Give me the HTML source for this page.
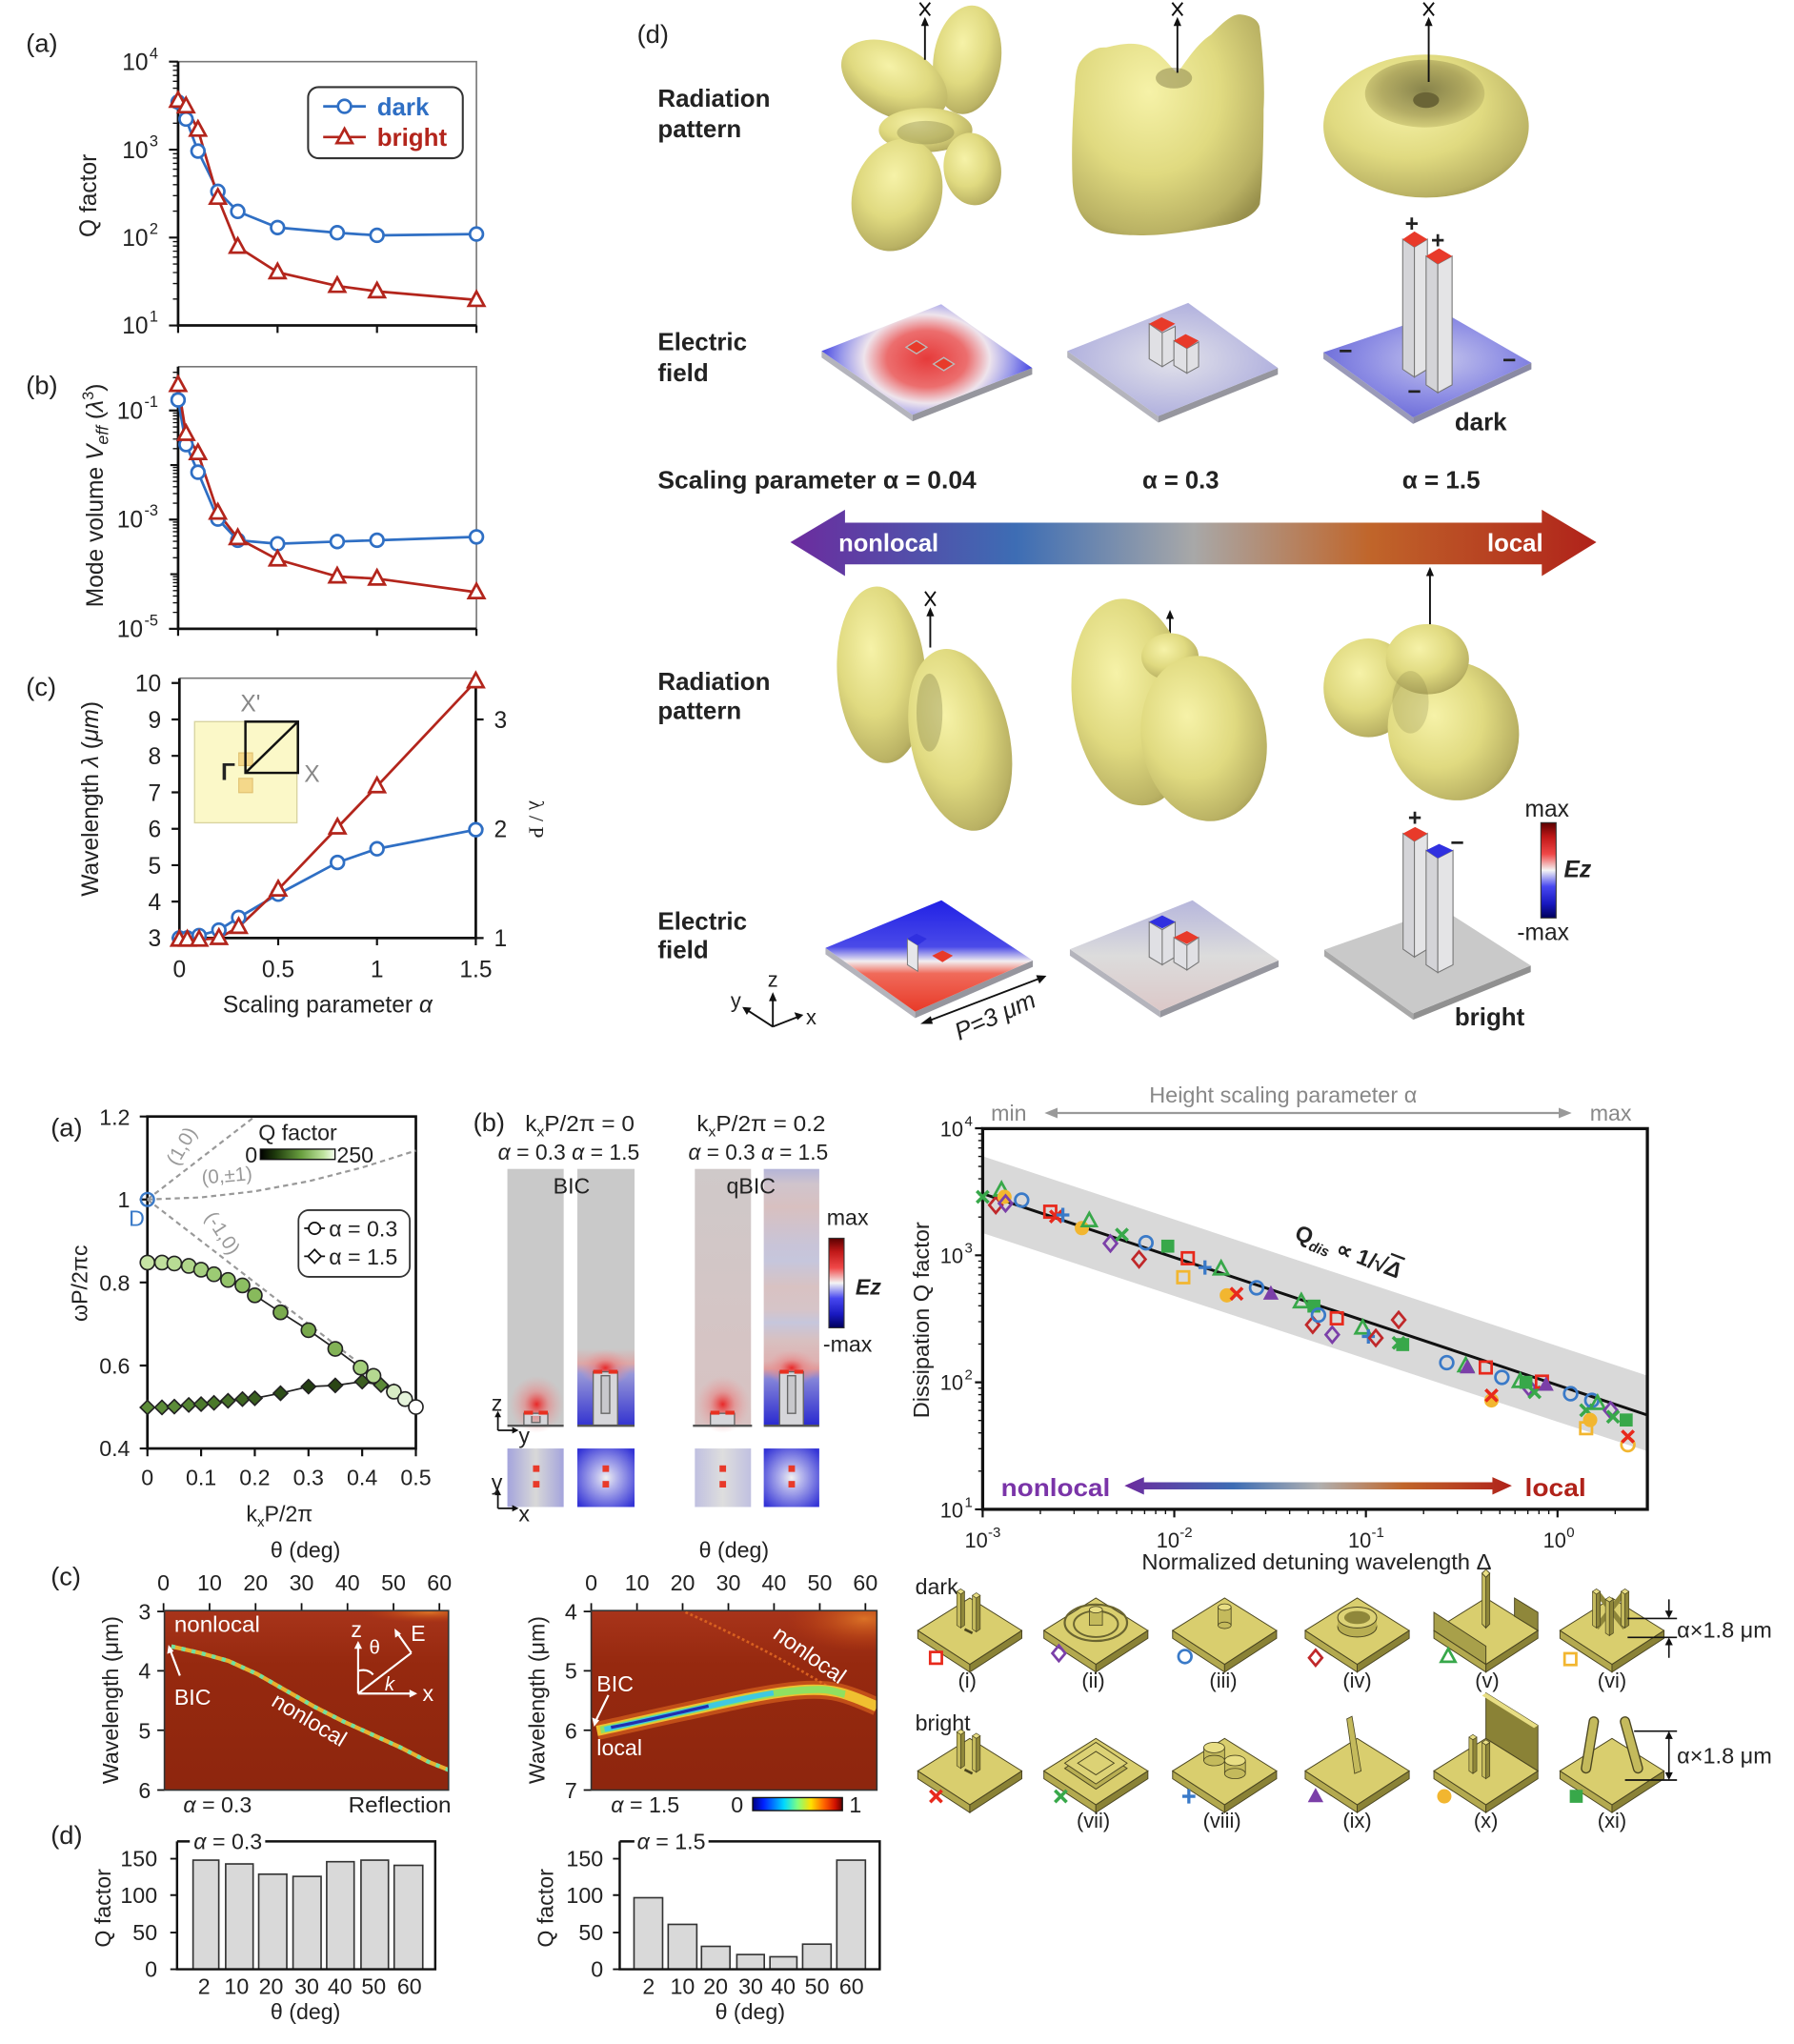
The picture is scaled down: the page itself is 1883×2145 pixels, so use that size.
<!DOCTYPE html>
<html><head><meta charset="utf-8">
<style>
html,body{margin:0;padding:0;background:#fff;}
svg{display:block;}
text{font-family:"Liberation Sans",Arial,sans-serif;fill:#222;}
</style></head><body>
<svg xmlns="http://www.w3.org/2000/svg" xmlns:xlink="http://www.w3.org/1999/xlink" width="1883" height="2145" viewBox="0 0 1380 1572" preserveAspectRatio="none">
<defs>
<radialGradient id="yb" cx="0.4" cy="0.35" r="0.75"><stop offset="0" stop-color="#f6f2a8"/><stop offset="0.5" stop-color="#e0da80"/><stop offset="0.85" stop-color="#bab264"/><stop offset="1" stop-color="#98904c"/></radialGradient>
<radialGradient id="ybd" cx="0.5" cy="0.45" r="0.6"><stop offset="0" stop-color="#6e6a38"/><stop offset="0.6" stop-color="#a49c56"/><stop offset="1" stop-color="#d8d27c"/></radialGradient>
<linearGradient id="arr" gradientUnits="userSpaceOnUse" x1="608" y1="0" x2="1228" y2="0"><stop offset="0" stop-color="#6c2b9e"/><stop offset="0.28" stop-color="#3d6db4"/><stop offset="0.5" stop-color="#a8a8a8"/><stop offset="0.72" stop-color="#c0652a"/><stop offset="1" stop-color="#b0221a"/></linearGradient>
<linearGradient id="arr2" gradientUnits="userSpaceOnUse" x1="865" y1="0" x2="1163" y2="0"><stop offset="0" stop-color="#6c2b9e"/><stop offset="0.28" stop-color="#3d6db4"/><stop offset="0.5" stop-color="#b0b0b0"/><stop offset="0.72" stop-color="#c0652a"/><stop offset="1" stop-color="#b0221a"/></linearGradient>
<radialGradient id="pl1" gradientUnits="userSpaceOnUse" cx="0" cy="0" r="1" gradientTransform="translate(713,276) scale(88,62)"><stop offset="0" stop-color="#e63a3a"/><stop offset="0.35" stop-color="#ec6e6e"/><stop offset="0.55" stop-color="#eee4ec"/><stop offset="0.75" stop-color="#9898ea"/><stop offset="1" stop-color="#2424e0"/></radialGradient>
<radialGradient id="pl2" cx="0.5" cy="0.5" r="0.6"><stop offset="0" stop-color="#e2e2ea"/><stop offset="1" stop-color="#a8a8dc"/></radialGradient>
<radialGradient id="pl3" cx="0.55" cy="0.45" r="0.6"><stop offset="0" stop-color="#c4c4ec"/><stop offset="0.6" stop-color="#8c8ce4"/><stop offset="1" stop-color="#6a6ad8"/></radialGradient>
<linearGradient id="pl4" gradientUnits="userSpaceOnUse" x1="0" y1="692" x2="0" y2="778"><stop offset="0" stop-color="#2020e6"/><stop offset="0.42" stop-color="#4a4ae8"/><stop offset="0.55" stop-color="#f2eef0"/><stop offset="0.66" stop-color="#f06a5a"/><stop offset="1" stop-color="#e83a28"/></linearGradient>
<linearGradient id="pl5" gradientUnits="userSpaceOnUse" x1="0" y1="692" x2="0" y2="778"><stop offset="0" stop-color="#b6b6dc"/><stop offset="0.5" stop-color="#dcdcdc"/><stop offset="1" stop-color="#dcc8c8"/></linearGradient>
<linearGradient id="ez" x1="0" y1="0" x2="0" y2="1"><stop offset="0" stop-color="#5a0000"/><stop offset="0.15" stop-color="#c01818"/><stop offset="0.33" stop-color="#f04848"/><stop offset="0.5" stop-color="#f4f4f4"/><stop offset="0.67" stop-color="#4848f0"/><stop offset="0.85" stop-color="#1818c0"/><stop offset="1" stop-color="#00005a"/></linearGradient>
<linearGradient id="qg" x1="0" y1="0" x2="1" y2="0"><stop offset="0" stop-color="#000"/><stop offset="0.2" stop-color="#1e3a0c"/><stop offset="0.55" stop-color="#6aa040"/><stop offset="0.85" stop-color="#c0e4a0"/><stop offset="1" stop-color="#f6fff0"/></linearGradient>
<linearGradient id="jet" x1="0" y1="0" x2="1" y2="0"><stop offset="0" stop-color="#00007f"/><stop offset="0.12" stop-color="#0020ff"/><stop offset="0.35" stop-color="#00d8ff"/><stop offset="0.5" stop-color="#80ff80"/><stop offset="0.65" stop-color="#ffe000"/><stop offset="0.8" stop-color="#ff6000"/><stop offset="0.92" stop-color="#d01000"/><stop offset="1" stop-color="#600000"/></linearGradient>
<radialGradient id="glow" cx="0.5" cy="0.5" r="0.5"><stop offset="0" stop-color="#e82828" stop-opacity="1"/><stop offset="0.45" stop-color="#e88080" stop-opacity="0.6"/><stop offset="1" stop-color="#e8a0a0" stop-opacity="0"/></radialGradient>
<linearGradient id="c2" x1="0" y1="0" x2="0" y2="1"><stop offset="0" stop-color="#c9c9c9"/><stop offset="0.7" stop-color="#c9c9c9"/><stop offset="0.76" stop-color="#dca8a8"/><stop offset="0.8" stop-color="#9898d8"/><stop offset="1" stop-color="#3434d0"/></linearGradient>
<linearGradient id="c3" x1="0" y1="0" x2="0" y2="1"><stop offset="0" stop-color="#cfc9c9"/><stop offset="1" stop-color="#d8c2c2"/></linearGradient>
<linearGradient id="c4" x1="0" y1="0" x2="0" y2="1"><stop offset="0" stop-color="#b4b4d8"/><stop offset="0.06" stop-color="#d0c4cc"/><stop offset="0.15" stop-color="#d8c0c0"/><stop offset="0.3" stop-color="#c8c4d8"/><stop offset="0.36" stop-color="#c6c6dc"/><stop offset="0.46" stop-color="#d8c2c2"/><stop offset="0.55" stop-color="#d6c4c8"/><stop offset="0.6" stop-color="#c6c6dc"/><stop offset="0.67" stop-color="#d8c0c0"/><stop offset="0.75" stop-color="#deb2b2"/><stop offset="0.78" stop-color="#e09a9a"/><stop offset="0.82" stop-color="#8484d8"/><stop offset="1" stop-color="#2a2ad0"/></linearGradient>
<linearGradient id="s1" x1="0" y1="0" x2="1" y2="0"><stop offset="0" stop-color="#a4a4dc"/><stop offset="0.5" stop-color="#d8d8d8"/><stop offset="1" stop-color="#a4a4dc"/></linearGradient>
<linearGradient id="s3" x1="0" y1="0" x2="1" y2="0"><stop offset="0" stop-color="#c0c0e0"/><stop offset="0.5" stop-color="#dedede"/><stop offset="1" stop-color="#c0c0e0"/></linearGradient>
<radialGradient id="s2" cx="0.5" cy="0.5" r="0.65"><stop offset="0" stop-color="#f0f0f0"/><stop offset="0.3" stop-color="#b4b4ec"/><stop offset="1" stop-color="#3434d6"/></radialGradient>
<linearGradient id="hm1" x1="0" y1="0" x2="0" y2="1"><stop offset="0" stop-color="#a8341a"/><stop offset="0.3" stop-color="#96290f"/><stop offset="1" stop-color="#8e260e"/></linearGradient>
<radialGradient id="hot" cx="0.5" cy="0.5" r="0.5"><stop offset="0" stop-color="#e07828" stop-opacity="0.9"/><stop offset="1" stop-color="#c04010" stop-opacity="0"/></radialGradient>
<clipPath id="clipL"><rect x="126.5" y="1238.7" width="218.5" height="138"/></clipPath>
<clipPath id="clipR"><rect x="454.8" y="1238.7" width="219.7" height="138"/></clipPath>

<g id="mc"><circle r="5" fill="none" stroke="currentColor" stroke-width="2"/></g>
<g id="ms"><rect x="-4.5" y="-4.5" width="9" height="9" fill="none" stroke="currentColor" stroke-width="2"/></g>
<g id="md"><path d="M0,-6 L5,0 L0,6 L-5,0Z" fill="none" stroke="currentColor" stroke-width="2"/></g>
<g id="mt"><path d="M0,-6 L5.5,4 L-5.5,4Z" fill="none" stroke="currentColor" stroke-width="2"/></g>
<g id="mx"><path d="M-4.5,-4.5 L4.5,4.5 M4.5,-4.5 L-4.5,4.5" stroke="currentColor" stroke-width="2.6" fill="none"/></g>
<g id="mp"><path d="M-5,0 H5 M0,-5.5 V5.5" stroke="currentColor" stroke-width="2.4" fill="none"/></g>
<g id="mtf"><path d="M0,-6.5 L6,4.5 L-6,4.5Z" fill="currentColor"/></g>
<g id="mcf"><circle r="5.5" fill="currentColor"/></g>
<g id="msf"><rect x="-5" y="-5" width="10" height="10" fill="currentColor"/></g>

<g id="base"><path d="M-40,0 L0,26 L0,32 L-40,6Z" fill="#b3a94f" stroke="#4a4520" stroke-width=".7"/><path d="M0,26 L40,0 L40,6 L0,32Z" fill="#8a8236" stroke="#4a4520" stroke-width=".7"/><path d="M-40,0 L0,-25 L40,0 L0,26Z" fill="#d9ce6e" stroke="#4a4520" stroke-width=".7"/></g>
<g id="pil"><path d="M-3,-28 L0,-26 L0,0 L-3,-2Z" fill="#c4ba5c" stroke="#4a4520" stroke-width=".5"/><path d="M0,-26 L3,-28 L3,-2 L0,0Z" fill="#8f873a" stroke="#4a4520" stroke-width=".5"/><path d="M-3,-28 L0,-30 L3,-28 L0,-26Z" fill="#e8de84" stroke="#4a4520" stroke-width=".5"/></g>
</defs>

<rect x="0" y="0" width="1380" height="1572" fill="#fff"/>

<!-- ===================== TOP LEFT (a) ===================== -->
<text x="20" y="40" font-size="20">(a)</text>
<path d="M137,47.4 H366.5 V250.3" stroke="#777" stroke-width="1.2" fill="none"/>
<path d="M137,47.4 V250.3 H366.5" stroke="#111" stroke-width="2" fill="none"/>
<path d="M130,250.3H137M130,182.7H137M130,115.1H137M130,47.4H137" stroke="#111" stroke-width="1.6"/>
<path d="M133,229.95H137M133,218.05H137M133,209.6H137M133,203.05H137M133,197.7H137M133,193.2H137M133,189.25H137M133,185.8H137M133,162.35H137M133,150.45H137M133,142H137M133,135.45H137M133,130.1H137M133,125.6H137M133,121.65H137M133,118.2H137M133,94.75H137M133,82.85H137M133,74.4H137M133,67.85H137M133,62.5H137M133,58H137M133,54.05H137M133,50.6H137" stroke="#111" stroke-width="1"/>
<path d="M137,250.3V256M213.5,250.3V256M290,250.3V256M366.5,250.3V256" stroke="#111" stroke-width="1.6"/>
<g font-size="18" text-anchor="end"><text x="114" y="54">10</text><text x="114" y="121.5">10</text><text x="114" y="189">10</text><text x="114" y="256.5">10</text></g>
<g font-size="12"><text x="115" y="45">4</text><text x="115" y="112.5">3</text><text x="115" y="180">2</text><text x="115" y="247.5">1</text></g>
<text transform="translate(74,150.5) rotate(-90)" font-size="18" text-anchor="middle">Q factor</text>
<polyline points="137,78.5 143.1,91.6 152.3,116.2 167.6,147.2 182.9,162.6 213.5,175 259.4,179 290,181 366.5,180" fill="none" stroke="#2f6fc4" stroke-width="2"/>
<polyline points="137,77.5 143.1,81.8 152.3,99.8 167.6,152.1 182.9,189.8 213.5,209.4 259.4,219.9 290,224.1 366.5,230.7" fill="none" stroke="#b3251c" stroke-width="2"/>
<g fill="#fff" stroke="#2f6fc4" stroke-width="2"><circle cx="137" cy="78.5" r="5"/><circle cx="143.1" cy="91.6" r="5"/><circle cx="152.3" cy="116.2" r="5"/><circle cx="167.6" cy="147.2" r="5"/><circle cx="182.9" cy="162.6" r="5"/><circle cx="213.5" cy="175" r="5"/><circle cx="259.4" cy="179" r="5"/><circle cx="290" cy="181" r="5"/><circle cx="366.5" cy="180" r="5"/></g>
<g fill="#fff" stroke="#b3251c" stroke-width="2"><path d="M137,71l6,11h-12z"/><path d="M143.1,75.3l6,11h-12z"/><path d="M152.3,93.3l6,11h-12z"/><path d="M167.6,145.6l6,11h-12z"/><path d="M182.9,183.3l6,11h-12z"/><path d="M213.5,202.9l6,11h-12z"/><path d="M259.4,213.4l6,11h-12z"/><path d="M290,217.6l6,11h-12z"/><path d="M366.5,224.2l6,11h-12z"/></g>
<rect x="237" y="67" width="119" height="54.7" rx="8" fill="#fff" stroke="#333" stroke-width="1.5"/>
<line x1="248.6" y1="81.8" x2="281.4" y2="81.8" stroke="#2f6fc4" stroke-width="2"/><circle cx="265" cy="81.8" r="5" fill="#fff" stroke="#2f6fc4" stroke-width="2"/>
<line x1="248.6" y1="105.4" x2="281.4" y2="105.4" stroke="#b3251c" stroke-width="2"/><path d="M265,99l6,11h-12z" fill="#fff" stroke="#b3251c" stroke-width="2"/>
<text x="290" y="88.5" font-size="19" font-weight="bold" style="fill:#2f6fc4">dark</text>
<text x="290" y="112" font-size="19" font-weight="bold" style="fill:#b3251c">bright</text>

<!-- (b) -->
<text x="20" y="303" font-size="20">(b)</text>
<path d="M137,282 H366.5 V483.6" stroke="#777" stroke-width="1.2" fill="none"/>
<path d="M137,282 V483.6 H366.5" stroke="#111" stroke-width="2" fill="none"/>
<path d="M130,483.6H137M131,441.6H137M130,399.6H137M131,357.7H137M130,315.7H137" stroke="#111" stroke-width="1.6"/>
<path d="M133,470.96H137M133,463.57H137M133,458.33H137M133,454.26H137M133,450.93H137M133,448.12H137M133,445.69H137M133,443.54H137M133,428.96H137M133,421.57H137M133,416.33H137M133,412.26H137M133,408.93H137M133,406.12H137M133,403.69H137M133,401.54H137M133,386.96H137M133,379.57H137M133,374.33H137M133,370.26H137M133,366.93H137M133,364.12H137M133,361.69H137M133,359.54H137M133,345.06H137M133,337.67H137M133,332.43H137M133,328.36H137M133,325.03H137M133,322.22H137M133,319.79H137M133,317.64H137M133,303.06H137M133,295.67H137M133,290.43H137M133,286.36H137" stroke="#111" stroke-width="1"/>
<path d="M137,483.6V489M213.5,483.6V489M290,483.6V489M366.5,483.6V489" stroke="#111" stroke-width="1.6"/>
<g font-size="18" text-anchor="end"><text x="110" y="322">10</text><text x="110" y="405.5">10</text><text x="110" y="490">10</text></g>
<g font-size="12"><text x="111" y="313">-1</text><text x="111" y="396.5">-3</text><text x="111" y="481">-5</text></g>
<text transform="translate(79,381) rotate(-90)" font-size="18" text-anchor="middle">Mode volume <tspan font-style="italic">V</tspan><tspan font-style="italic" font-size="13" dy="4">eff</tspan><tspan dy="-4"> (</tspan><tspan font-style="italic">λ</tspan><tspan font-size="12" dy="-7">3</tspan><tspan dy="7">)</tspan></text>
<polyline points="137,307.6 143.1,341.9 152.3,363.2 167.6,399.2 182.9,415.5 213.5,418.2 259.4,416.5 290,415.5 366.5,412.9" fill="none" stroke="#2f6fc4" stroke-width="2"/>
<polyline points="137,296.1 143.1,333.7 152.3,348.5 167.6,394.3 182.9,413.9 213.5,430.3 259.4,443.4 290,445 366.5,455.5" fill="none" stroke="#b3251c" stroke-width="2"/>
<g fill="#fff" stroke="#2f6fc4" stroke-width="2"><circle cx="137" cy="307.6" r="5"/><circle cx="143.1" cy="341.9" r="5"/><circle cx="152.3" cy="363.2" r="5"/><circle cx="167.6" cy="399.2" r="5"/><circle cx="182.9" cy="415.5" r="5"/><circle cx="213.5" cy="418.2" r="5"/><circle cx="259.4" cy="416.5" r="5"/><circle cx="290" cy="415.5" r="5"/><circle cx="366.5" cy="412.9" r="5"/></g>
<g fill="#fff" stroke="#b3251c" stroke-width="2"><path d="M137,289.6l6,11h-12z"/><path d="M143.1,327.2l6,11h-12z"/><path d="M152.3,342l6,11h-12z"/><path d="M167.6,387.8l6,11h-12z"/><path d="M182.9,407.4l6,11h-12z"/><path d="M213.5,423.8l6,11h-12z"/><path d="M259.4,436.9l6,11h-12z"/><path d="M290,438.5l6,11h-12z"/><path d="M366.5,449l6,11h-12z"/></g>

<!-- (c) -->
<text x="20" y="535" font-size="20">(c)</text>
<path d="M138,521.6 H366" stroke="#777" stroke-width="1.2" fill="none"/>
<path d="M138,521.6 V721.4 H366 V521.6" stroke="#111" stroke-width="2" fill="none"/>
<path d="M132,525.3H138M132,553.3H138M132,581.3H138M132,609.4H138M132,637.4H138M132,665.4H138M132,693.4H138M132,721.4H138M366,553.3H372M366,637.4H372M366,721.4H372M138,721.4V727M214,721.4V727M290,721.4V727M366,721.4V727" stroke="#111" stroke-width="1.6"/>
<g font-size="18" text-anchor="end"><text x="124" y="531.8">10</text><text x="124" y="559.8">9</text><text x="124" y="587.8">8</text><text x="124" y="615.9">7</text><text x="124" y="643.9">6</text><text x="124" y="671.9">5</text><text x="124" y="699.9">4</text><text x="124" y="727.9">3</text></g>
<g font-size="18"><text x="380" y="559.8">3</text><text x="380" y="643.9">2</text><text x="380" y="727.9">1</text></g>
<g font-size="18" text-anchor="middle"><text x="138" y="751.5">0</text><text x="214" y="751.5">0.5</text><text x="290" y="751.5">1</text><text x="366" y="751.5">1.5</text></g>
<text x="252" y="778.5" font-size="18" text-anchor="middle">Scaling parameter <tspan font-style="italic">α</tspan></text>
<text transform="translate(75.5,614.4) rotate(-90)" font-size="18" text-anchor="middle">Wavelength <tspan font-style="italic">λ</tspan> (<tspan font-style="italic">μm</tspan>)</text>
<text transform="translate(407,630) rotate(90)" font-size="16" text-anchor="middle" style="font-family:'Liberation Serif',serif">λ / P</text>
<!-- inset -->
<rect x="149.7" y="555" width="78.7" height="77.8" fill="#fbf8c8" stroke="#d8d4a0" stroke-width="1"/>
<rect x="183.7" y="579" width="10.6" height="9.8" fill="#f4d88a" stroke="#e0c070" stroke-width="0.8"/>
<rect x="183.7" y="598.6" width="10.6" height="11" fill="#f4d88a" stroke="#e0c070" stroke-width="0.8"/>
<rect x="188.8" y="555" width="40.4" height="39.4" fill="none" stroke="#111" stroke-width="1.8"/>
<line x1="188.8" y1="594.4" x2="229.2" y2="555" stroke="#111" stroke-width="1.8"/>
<text x="170" y="600" font-size="18" font-weight="bold" fill="#111">Γ</text>
<text x="234" y="601.5" font-size="18" style="fill:#888">X</text>
<text x="185" y="547" font-size="18" style="fill:#888">X'</text>
<polyline points="138,721.4 144.1,721.4 153.2,719.5 168.4,715.3 183.6,705.6 214,687.7 259.6,663.3 290,652.8 366,638.1" fill="none" stroke="#2f6fc4" stroke-width="2"/>
<polyline points="138,722.7 144.1,722.7 153.2,722.7 168.4,721.4 183.6,712.9 214,684.1 259.6,636.4 290,604.7 366,524" fill="none" stroke="#b3251c" stroke-width="2"/>
<g fill="#fff" stroke="#2f6fc4" stroke-width="2"><circle cx="138" cy="721.4" r="5"/><circle cx="144.1" cy="721.4" r="5"/><circle cx="153.2" cy="719.5" r="5"/><circle cx="168.4" cy="715.3" r="5"/><circle cx="183.6" cy="705.6" r="5"/><circle cx="214" cy="687.7" r="5"/><circle cx="259.6" cy="663.3" r="5"/><circle cx="290" cy="652.8" r="5"/><circle cx="366" cy="638.1" r="5"/></g>
<g fill="#fff" stroke="#b3251c" stroke-width="2"><path d="M138,716.2l6,11h-12z"/><path d="M144.1,716.2l6,11h-12z"/><path d="M153.2,716.2l6,11h-12z"/><path d="M168.4,714.9l6,11h-12z"/><path d="M183.6,706.4l6,11h-12z"/><path d="M214,677.6l6,11h-12z"/><path d="M259.6,629.9l6,11h-12z"/><path d="M290,598.2l6,11h-12z"/><path d="M366,517.5l6,11h-12z"/></g>

<!-- ===================== TOP RIGHT (d) ===================== -->
<text x="490" y="33" font-size="20">(d)</text>
<g font-size="19" font-weight="bold" fill="#111">
<text x="506" y="82">Radiation</text><text x="506" y="105.5">pattern</text>
<text x="506" y="269.5">Electric</text><text x="506" y="293">field</text>
<text x="506" y="375.5" textLength="245" lengthAdjust="spacingAndGlyphs">Scaling parameter  α = 0.04</text>
<text x="878.7" y="375.5" textLength="59" lengthAdjust="spacingAndGlyphs">α = 0.3</text>
<text x="1078.6" y="375.5" textLength="60" lengthAdjust="spacingAndGlyphs">α = 1.5</text>
<text x="506" y="530.5">Radiation</text><text x="506" y="553">pattern</text>
<text x="506" y="715">Electric</text><text x="506" y="737">field</text>
<text x="1119" y="331">dark</text>
<text x="1119" y="788.5">bright</text>
</g>
<!-- gradient arrow -->
<polygon points="608,417 650,392 650,402 1186,402 1186,392 1228,417 1186,443 1186,434 650,434 650,443" fill="url(#arr)"/>
<text x="645" y="424" font-size="19" font-weight="bold" style="fill:#fff" textLength="77" lengthAdjust="spacingAndGlyphs">nonlocal</text>
<text x="1144" y="424" font-size="19" font-weight="bold" style="fill:#fff" textLength="43" lengthAdjust="spacingAndGlyphs">local</text>

<!-- blob 1 -->
<g fill="url(#yb)">
<ellipse cx="744" cy="46" rx="26" ry="42" transform="rotate(8 744 46)"/>
<ellipse cx="688" cy="62" rx="44" ry="27" transform="rotate(28 688 62)"/>
<ellipse cx="712" cy="100" rx="36" ry="17"/>
<ellipse cx="690" cy="150" rx="34" ry="44" transform="rotate(18 690 150)"/>
<ellipse cx="748" cy="130" rx="22" ry="28" transform="rotate(-10 748 130)"/>
</g>
<ellipse cx="712" cy="102" rx="22" ry="9" fill="#6e6a38" opacity="0.3"/>
<!-- blob 2 -->
<path d="M830.8,47.7 C838,38 845,36 851,36.5 C865,33 873,33 879.8,35 C892,38 900,52 905.7,56 C912,48 920,34 931.7,26.6 C940,18 948,10 954.7,11.2 C963,12 969,16 969.1,22.4 C972,45 973,70 972,84 C972,110 971,140 969.1,157 C965,167 950,172 937.4,173.8 C915,178 895,181 879.8,181 C865,181 852,180 845.2,176.7 C830,170 826,155 825,140 C824,115 825,90 826.8,70 C827,60 828,52 830.8,47.7 Z" fill="url(#yb)"/>
<ellipse cx="903" cy="60" rx="14" ry="8" fill="#7a7440" opacity="0.45"/>
<!-- blob 3 torus -->
<ellipse cx="1097" cy="97" rx="79" ry="55" fill="url(#yb)"/>
<ellipse cx="1096" cy="72" rx="46" ry="26" fill="url(#ybd)" opacity="0.8"/>
<ellipse cx="1097" cy="77" rx="10" ry="6" fill="#6a6436"/>
<!-- arrows with x -->
<g stroke="#111" stroke-width="1.4" fill="none">
<line x1="711.5" y1="46" x2="711.5" y2="18"/><path d="M707.5,12 L715.5,2 M715.5,12 L707.5,2"/>
<line x1="905.7" y1="56" x2="905.7" y2="18"/><path d="M901.7,12 L909.7,2 M909.7,12 L901.7,2"/>
<line x1="1099" y1="63" x2="1099" y2="18"/><path d="M1095,12 L1103,2 M1103,12 L1095,2"/>
<line x1="715.6" y1="498" x2="715.6" y2="472"/><path d="M711.6,466 L719.6,455 M719.6,466 L711.6,455"/>
<line x1="900" y1="493" x2="900" y2="474"/>
<line x1="1100" y1="482" x2="1100" y2="441"/>
</g>
<g fill="#111"><path d="M711.5,13 l-3,7 h6z"/><path d="M905.7,13 l-3,7 h6z"/><path d="M1099,13 l-3,7 h6z"/><path d="M715.6,467 l-3,7 h6z"/><path d="M900,469 l-3,7 h6z"/><path d="M1100,436 l-3,7 h6z"/></g>

<!-- plates row 1 -->
<path d="M632,270 L702,319 L702,324 L632,275Z" fill="#b4b4bc"/><path d="M702,319 L794,283 L794,288 L702,324Z" fill="#96969e"/>
<path d="M632,270 L724,234 L794,283 L702,319Z" fill="url(#pl1)"/>
<path d="M697,267 L705,262 L713,267 L705,272Z" fill="#e83a2a" stroke="#bbb" stroke-width="1"/>
<path d="M718,280 L726,275 L734,280 L726,285Z" fill="#e83a2a" stroke="#bbb" stroke-width="1"/>
<path d="M821,270 L891,320 L891,325 L821,275Z" fill="#b4b4bc"/><path d="M891,320 L983,283 L983,288 L891,325Z" fill="#96969e"/>
<path d="M821,270 L914,233 L983,283 L891,320Z" fill="url(#pl2)"/>
<path d="M884,249 L884,276 L894,282 L894,256Z M894,256 L894,282 L904,276 L904,251Z" fill="#e0e0e4" stroke="#777" stroke-width="0.8"/>
<path d="M903,262 L903,281 L913,287 L913,268Z M913,268 L913,287 L922,282 L922,263Z" fill="#e0e0e4" stroke="#777" stroke-width="0.8"/>
<path d="M884,249 L893.5,244 L904,249 L894,255Z" fill="#e83a2a"/>
<path d="M903,262 L912,257 L922,262 L913,268Z" fill="#e83a2a"/>
<path d="M1018,271 L1087,321 L1087,326 L1018,276Z" fill="#9a9ab8"/><path d="M1087,321 L1178,279 L1178,284 L1087,326Z" fill="#8a8aa4"/>
<path d="M1018,271 L1110,240 L1178,279 L1087,321Z" fill="url(#pl3)"/>
<path d="M1079,184 L1079,284 L1088,290 L1088,190Z" fill="#d4d4d8" stroke="#777" stroke-width="0.8"/><path d="M1088,190 L1088,290 L1098,284 L1098,184Z" fill="#e4e4e6" stroke="#777" stroke-width="0.8"/>
<path d="M1097,197 L1097,296 L1106,302 L1106,203Z" fill="#d4d4d8" stroke="#777" stroke-width="0.8"/><path d="M1106,203 L1106,302 L1117,296 L1117,197Z" fill="#e4e4e6" stroke="#777" stroke-width="0.8"/>
<path d="M1079,184 L1088,178 L1098,184 L1088,190Z" fill="#e83a2a"/>
<path d="M1097,197 L1107,191 L1117,197 L1106,203Z" fill="#e83a2a"/>
<g font-size="18" font-weight="bold" text-anchor="middle" fill="#111"><text x="1086" y="178">+</text><text x="1106" y="191">+</text><text x="1035" y="276">−</text><text x="1161" y="283">−</text><text x="1088" y="307">−</text></g>

<!-- blobs row 2 -->
<g fill="url(#yb)">
<ellipse cx="678" cy="519" rx="34" ry="68" transform="rotate(-4 678 519)"/>
<ellipse cx="738.6" cy="569" rx="38" ry="71" transform="rotate(-12 738.6 569)"/>
<ellipse cx="871" cy="540" rx="46" ry="80" transform="rotate(-8 871 540)"/>
<ellipse cx="900" cy="505" rx="22" ry="18"/>
<ellipse cx="926" cy="568" rx="48" ry="64" transform="rotate(-10 926 568)"/>
<ellipse cx="1052.7" cy="529" rx="34.6" ry="38"/>
<ellipse cx="1118" cy="562" rx="50" ry="54" transform="rotate(-20 1118 562)"/>
<ellipse cx="1098" cy="507" rx="32" ry="27"/>
</g>
<ellipse cx="715" cy="548" rx="10" ry="30" fill="#6e6a38" opacity="0.3"/>
<ellipse cx="1085" cy="540" rx="14" ry="24" fill="#6e6a38" opacity="0.2"/>

<!-- plates row 2 -->
<path d="M635,729 L704,778 L704,783 L635,734Z" fill="#b4b4bc"/><path d="M704,778 L794.5,738.6 L794.5,743.6 L704,783Z" fill="#96969e"/>
<path d="M635,729 L724.2,692.4 L794.5,738.6 L704,778Z" fill="url(#pl4)"/>
<path d="M698,722 L698,742 L706,747 L706,727Z" fill="#e6e6ea" stroke="#777" stroke-width="0.7"/>
<path d="M698,722 L705,718 L713,722 L706,727Z" fill="#3030e0"/>
<path d="M717,735 L725,731 L733,735 L725,740Z" fill="#e83a2a"/>
<path d="M823,730 L892.5,777.5 L892.5,782.5 L823,735Z" fill="#b4b4bc"/><path d="M892.5,777.5 L983.5,738.6 L983.5,743.6 L892.5,782.5Z" fill="#96969e"/>
<path d="M823,730 L917.3,692.4 L983.5,738.6 L892.5,777.5Z" fill="url(#pl5)"/>
<path d="M884,709 L884,736 L894,742 L894,715Z M894,715 L894,742 L904,736 L904,709Z" fill="#e0e0e4" stroke="#777" stroke-width="0.8"/>
<path d="M903,721 L903,740 L913,746 L913,727Z M913,727 L913,746 L922,740 L922,721Z" fill="#e0e0e4" stroke="#777" stroke-width="0.8"/>
<path d="M884,709 L894,704 L904,709 L894,714Z" fill="#3030e0"/>
<path d="M903,721 L913,716 L922,721 L913,726Z" fill="#e83a2a"/>
<path d="M1018.7,730.4 L1087.1,779.3 L1087.1,784.3 L1018.7,735.4Z" fill="#a8a8a8"/><path d="M1087.1,779.3 L1177.5,742.6 L1177.5,747.6 L1087.1,784.3Z" fill="#909090"/>
<path d="M1018.7,730.4 L1109,698.7 L1177.5,742.6 L1087.1,779.3Z" fill="#c9c9c9"/>
<path d="M1079.3,641 L1079.3,730 L1088,736 L1088,647Z" fill="#d4d4d8" stroke="#777" stroke-width="0.8"/><path d="M1088,647 L1088,736 L1098,730 L1098,641Z" fill="#e4e4e6" stroke="#777" stroke-width="0.8"/>
<path d="M1097,654 L1097,742 L1106,748 L1106,660Z" fill="#d4d4d8" stroke="#777" stroke-width="0.8"/><path d="M1106,660 L1106,748 L1117.7,742 L1117.7,654Z" fill="#e4e4e6" stroke="#777" stroke-width="0.8"/>
<path d="M1079.3,641 L1088.5,636 L1098,641 L1088,647Z" fill="#e83a2a"/>
<path d="M1097,654 L1107,649 L1117.7,654 L1106,660Z" fill="#3030e0"/>
<g font-size="18" font-weight="bold" text-anchor="middle" fill="#111"><text x="1088.4" y="635">+</text><text x="1121" y="654">−</text></g>
<rect x="1185.3" y="632.7" width="11.7" height="73.3" fill="url(#ez)" stroke="#333" stroke-width="0.8"/>
<text x="1190" y="628" font-size="18" text-anchor="middle">max</text>
<text x="1203" y="674.5" font-size="18" font-weight="bold" font-style="italic">Ez</text>
<text x="1187" y="723" font-size="18" text-anchor="middle">-max</text>
<!-- triad & P -->
<g stroke="#111" stroke-width="1.4" fill="none"><line x1="594.5" y1="789.6" x2="594.5" y2="768"/><line x1="594.5" y1="789.6" x2="614" y2="782"/><line x1="594.5" y1="789.6" x2="575" y2="777"/><line x1="712" y1="786" x2="801" y2="752"/></g>
<g fill="#111"><path d="M594.5,763 l-3,7 h6z"/><path d="M618,780.5 l-7,-2 l2.5,6z"/><path d="M571,774.5 l7,0.5 l-3.5,5.5z"/><path d="M708,787.5 l8,-6 l1.5,6z"/><path d="M805,750.5 l-8,-0.5 l2.5,6.5z"/></g>
<text x="594.5" y="759" font-size="16" text-anchor="middle">z</text>
<text x="620" y="788" font-size="16">x</text>
<text x="562" y="775" font-size="16">y</text>
<text transform="translate(768,787) rotate(-24)" font-size="19" font-style="italic" text-anchor="middle">P=3 μm</text>

<!-- ===================== BOTTOM (a) ===================== -->
<text x="39" y="874" font-size="20">(a)</text>
<rect x="113.4" y="858.7" width="206.5" height="255.3" fill="none" stroke="#111" stroke-width="2"/>
<path d="M107.5,858.7H113.4M107.5,922.5H113.4M107.5,986.3H113.4M107.5,1050.2H113.4M107.5,1114H113.4M113.4,1114V1120M154.7,1114V1120M196,1114V1120M237.3,1114V1120M278.6,1114V1120M319.9,1114V1120" stroke="#111" stroke-width="1.6"/>
<g font-size="17" text-anchor="end"><text x="100" y="865">1.2</text><text x="100" y="928.5">1</text><text x="100" y="992.5">0.8</text><text x="100" y="1056.5">0.6</text><text x="100" y="1120">0.4</text></g>
<g font-size="17" text-anchor="middle"><text x="113.4" y="1142">0</text><text x="154.7" y="1142">0.1</text><text x="196" y="1142">0.2</text><text x="237.3" y="1142">0.3</text><text x="278.6" y="1142">0.4</text><text x="319.9" y="1142">0.5</text></g>
<text x="215" y="1170" font-size="17" text-anchor="middle">k<tspan font-size="11" dy="4">x</tspan><tspan dy="-4">P/2π</tspan></text>
<text transform="translate(67,987) rotate(-90)" font-size="17" text-anchor="middle">ωP/2πc</text>
<g stroke="#999" stroke-width="1.6" stroke-dasharray="4 3" fill="none">
<line x1="113.4" y1="922.5" x2="196" y2="858.7"/>
<polyline points="113.4,922.5 154.7,920.9 196,916.2 237.3,908.5 278.6,897.9 319.9,884.9"/>
<line x1="113.4" y1="922.5" x2="319.9" y2="1082.1"/>
</g>
<text transform="translate(144,884) rotate(-60)" font-size="15" text-anchor="middle" style="fill:#999">(1,0)</text>
<text transform="translate(175,909) rotate(-5)" font-size="15" text-anchor="middle" style="fill:#999">(0,±1)</text>
<text transform="translate(167,951) rotate(57)" font-size="15" text-anchor="middle" style="fill:#999">(-1,0)</text>
<circle cx="113.4" cy="922.5" r="5" fill="none" stroke="#3a7ac8" stroke-width="1.8"/>
<text x="99" y="943" font-size="17" style="fill:#3a7ac8">D</text>
<text x="229" y="877" font-size="17" text-anchor="middle">Q factor</text>
<rect x="200.3" y="883.8" width="57.4" height="7.9" fill="url(#qg)" stroke="#111" stroke-width="1"/>
<text x="198" y="894" font-size="17" text-anchor="end">0</text>
<text x="259" y="894" font-size="17">250</text>
<rect x="229.6" y="930.7" width="85.6" height="51.3" rx="8" fill="#fff" stroke="#333" stroke-width="1.3"/>
<line x1="234" y1="944.7" x2="250" y2="944.7" stroke="#111" stroke-width="1.3"/><circle cx="242" cy="944.7" r="4.5" fill="#fff" stroke="#111" stroke-width="1.3"/>
<line x1="234" y1="966.2" x2="250" y2="966.2" stroke="#111" stroke-width="1.3"/><path d="M242,961 L247,966.2 L242,971.4 L237,966.2Z" fill="#fff" stroke="#111" stroke-width="1.3"/>
<text x="253" y="951" font-size="17">α = 0.3</text>
<text x="253" y="972.5" font-size="17">α = 1.5</text>
<polyline points="113.4,971 124.6,971 134.1,971.7 145.2,973.6 154.7,976.5 164.6,980 175.4,984.4 186.5,988.6 196,996.2 215.8,1009.3 237.3,1023 257.9,1037.4 277.4,1051.8 287.3,1058.1 303,1070.3 311.6,1076 319.9,1082.1" fill="none" stroke="#222" stroke-width="1.3"/>
<polyline points="113.4,1082.4 124.6,1082.4 134.1,1081.8 145.2,1080.5 154.7,1079.9 164.6,1078.9 175.4,1077.3 186.5,1076 196,1075.4 215.8,1071.5 237.3,1066.4 257.9,1065.5 278.6,1062.6 293.1,1065.2 303,1070 311.6,1076" fill="none" stroke="#222" stroke-width="1.3"/>
<g stroke="#222" stroke-width="1.2">
<path d="M113.4,1077 l5.5,5.4 l-5.5,5.4 l-5.5,-5.4z" fill="#5c8c38"/><path d="M124.6,1077 l5.5,5.4 l-5.5,5.4 l-5.5,-5.4z" fill="#5c8c38"/><path d="M134.1,1076.4 l5.5,5.4 l-5.5,5.4 l-5.5,-5.4z" fill="#5c8c38"/><path d="M145.2,1075.1 l5.5,5.4 l-5.5,5.4 l-5.5,-5.4z" fill="#548432"/><path d="M154.7,1074.5 l5.5,5.4 l-5.5,5.4 l-5.5,-5.4z" fill="#4c7a2c"/><path d="M164.6,1073.5 l5.5,5.4 l-5.5,5.4 l-5.5,-5.4z" fill="#4a782a"/><path d="M175.4,1071.9 l5.5,5.4 l-5.5,5.4 l-5.5,-5.4z" fill="#467028"/><path d="M186.5,1070.6 l5.5,5.4 l-5.5,5.4 l-5.5,-5.4z" fill="#3e6622"/><path d="M196,1070 l5.5,5.4 l-5.5,5.4 l-5.5,-5.4z" fill="#3a6020"/><path d="M215.8,1066.1 l5.5,5.4 l-5.5,5.4 l-5.5,-5.4z" fill="#2e4e18"/><path d="M237.3,1061 l5.5,5.4 l-5.5,5.4 l-5.5,-5.4z" fill="#243e12"/><path d="M257.9,1060.1 l5.5,5.4 l-5.5,5.4 l-5.5,-5.4z" fill="#2a4614"/><path d="M278.6,1057.2 l5.5,5.4 l-5.5,5.4 l-5.5,-5.4z" fill="#3c5e20"/><path d="M293.1,1059.8 l5.5,5.4 l-5.5,5.4 l-5.5,-5.4z" fill="#5c8a38"/><path d="M303,1064.6 l5.5,5.4 l-5.5,5.4 l-5.5,-5.4z" fill="#7aa850"/><path d="M311.6,1070.6 l5.5,5.4 l-5.5,5.4 l-5.5,-5.4z" fill="#8cba60"/>
</g>
<g stroke="#222" stroke-width="1.2">
<circle cx="113.4" cy="971" r="5.5" fill="#c6e4a4"/><circle cx="124.6" cy="971" r="5.5" fill="#c0e09c"/><circle cx="134.1" cy="971.7" r="5.5" fill="#b8dc94"/><circle cx="145.2" cy="973.6" r="5.5" fill="#b0d68a"/><circle cx="154.7" cy="976.5" r="5.5" fill="#a6d080"/><circle cx="164.6" cy="980" r="5.5" fill="#9ccb74"/><circle cx="175.4" cy="984.4" r="5.5" fill="#94c46a"/><circle cx="186.5" cy="988.6" r="5.5" fill="#8cbe62"/><circle cx="196" cy="996.2" r="5.5" fill="#88ba5c"/><circle cx="215.8" cy="1009.3" r="5.5" fill="#7aaa4e"/><circle cx="237.3" cy="1023" r="5.5" fill="#78a84c"/><circle cx="257.9" cy="1037.4" r="5.5" fill="#82b256"/><circle cx="277.4" cy="1051.8" r="5.5" fill="#a4cf7c"/><circle cx="287.3" cy="1058.1" r="5.5" fill="#b4d890"/><circle cx="303" cy="1070.3" r="5.5" fill="#d8ecc4"/><circle cx="311.6" cy="1076" r="5.5" fill="#e6f4dc"/><circle cx="319.9" cy="1082.1" r="5.5" fill="#fff"/>
</g>

<!-- ===================== BOTTOM (b) ===================== -->
<text x="364" y="870" font-size="20">(b)</text>
<text x="404" y="870" font-size="17" textLength="84" lengthAdjust="spacingAndGlyphs">k<tspan font-size="11" dy="4">x</tspan><tspan dy="-4">P/2π = 0</tspan></text>
<text x="383" y="892" font-size="17" textLength="109" lengthAdjust="spacingAndGlyphs"><tspan font-style="italic">α</tspan> = 0.3 <tspan font-style="italic">α</tspan> = 1.5</text>
<text x="536" y="870" font-size="17" textLength="99" lengthAdjust="spacingAndGlyphs">k<tspan font-size="11" dy="4">x</tspan><tspan dy="-4">P/2π = 0.2</tspan></text>
<text x="529.5" y="892" font-size="17" textLength="107.5" lengthAdjust="spacingAndGlyphs"><tspan font-style="italic">α</tspan> = 0.3 <tspan font-style="italic">α</tspan> = 1.5</text>
<rect x="390.3" y="899" width="43.3" height="197" fill="#c9c9c9"/>
<ellipse cx="412.8" cy="1080" rx="21" ry="22" fill="url(#glow)"/>
<rect x="444.1" y="899" width="44" height="197" fill="url(#c2)"/>
<ellipse cx="465.7" cy="1052" rx="20" ry="14" fill="url(#glow)"/>
<rect x="534.5" y="899" width="43.2" height="197" fill="url(#c3)"/>
<ellipse cx="556" cy="1080" rx="21" ry="22" fill="url(#glow)"/>
<rect x="587.5" y="899" width="42.7" height="197" fill="url(#c4)"/>
<ellipse cx="609" cy="1052" rx="20" ry="14" fill="url(#glow)"/>
<g fill="#d6d6da" stroke="#666" stroke-width="1">
<path d="M403,1087 H421.4 V1096 H403Z M409,1089 V1094 H415.4 V1089"/>
<path d="M456.3,1055 H475.1 V1096 H456.3Z"/><path d="M462.5,1058 V1087 H469 V1058Z" fill="#c8c8cc"/>
<path d="M546.5,1087 H565 V1096 H546.5Z"/>
<path d="M599.7,1055 H618 V1096 H599.7Z"/><path d="M605.8,1058 V1087 H612 V1058Z" fill="#c8c8cc"/>
</g>
<g fill="#e83020"><rect x="403" y="1085" width="7" height="3"/><rect x="414.4" y="1085" width="7" height="3"/><rect x="456.3" y="1053.5" width="7" height="3"/><rect x="468.1" y="1053.5" width="7" height="3"/><rect x="546.5" y="1085" width="7" height="3"/><rect x="558" y="1085" width="7" height="3"/><rect x="599.7" y="1053.5" width="7" height="3"/><rect x="611" y="1053.5" width="7" height="3"/></g>
<g stroke="#555" stroke-width="1.8"><line x1="390.3" y1="1096.5" x2="433.6" y2="1096.5"/><line x1="444.1" y1="1096.5" x2="488.1" y2="1096.5"/><line x1="533" y1="1096.5" x2="578.5" y2="1096.5"/><line x1="587.5" y1="1096.5" x2="630.2" y2="1096.5"/></g>
<text x="439.7" y="918" font-size="17" text-anchor="middle">BIC</text>
<text x="577.7" y="918" font-size="17" text-anchor="middle">qBIC</text>
<rect x="390.3" y="1114" width="43.3" height="45" fill="url(#s1)"/>
<rect x="444.1" y="1114" width="44" height="45" fill="url(#s2)"/>
<rect x="534.5" y="1114" width="43.2" height="45" fill="url(#s3)"/>
<rect x="587.5" y="1114" width="42.7" height="45" fill="url(#s2)"/>
<g fill="#e83a2a"><rect x="410" y="1127" width="5" height="5"/><rect x="410" y="1139" width="5" height="5"/><rect x="463.5" y="1127" width="5" height="5"/><rect x="463.5" y="1139" width="5" height="5"/><rect x="553.5" y="1127" width="5" height="5"/><rect x="553.5" y="1139" width="5" height="5"/><rect x="606.5" y="1127" width="5" height="5"/><rect x="606.5" y="1139" width="5" height="5"/></g>
<rect x="637.6" y="952.3" width="11.7" height="68.9" fill="url(#ez)" stroke="#333" stroke-width="0.8"/>
<text x="652" y="942" font-size="17" text-anchor="middle">max</text>
<text x="658" y="995.5" font-size="17" font-weight="bold" font-style="italic">Ez</text>
<text x="652" y="1039.5" font-size="17" text-anchor="middle">-max</text>
<g stroke="#111" stroke-width="1.3" fill="none"><path d="M383,1100 V1088 M383,1100 H396"/><path d="M383,1160 V1148 M383,1160 H396"/></g>
<g fill="#111"><path d="M383,1085 l-2.5,5 h5z"/><path d="M399,1100 l-5,-2.5 v5z"/><path d="M383,1145 l-2.5,5 h5z"/><path d="M399,1160 l-5,-2.5 v5z"/></g>
<text x="378" y="1085" font-size="17">z</text><text x="399" y="1110" font-size="17">y</text>
<text x="378" y="1146" font-size="17">y</text><text x="399" y="1170" font-size="17">x</text>

<!-- ===================== SCATTER ===================== -->
<text x="987" y="848" font-size="17" text-anchor="middle" style="fill:#888" textLength="206" lengthAdjust="spacingAndGlyphs">Height scaling parameter α</text>
<text x="776" y="862" font-size="17" text-anchor="middle" style="fill:#888">min</text>
<text x="1239" y="862" font-size="17" text-anchor="middle" style="fill:#888">max</text>
<line x1="808" y1="856" x2="1204" y2="856" stroke="#999" stroke-width="1.6"/>
<path d="M803.5,856 l10,-4 v8z M1209,856 l-10,-4 v8z" fill="#999"/>
<polygon points="755.9,889.2 1267.2,1058 1267.2,1116.1 755.9,948.3" fill="#d9d9d9"/>
<line x1="755.9" y1="918" x2="1267.2" y2="1088.3" stroke="#111" stroke-width="2.2"/>
<rect x="755.9" y="868" width="511.3" height="292.8" fill="none" stroke="#111" stroke-width="2.4"/>
<path d="M750,867.7H755.9M750,965.4H755.9M750,1063.1H755.9M750,1160.8H755.9" stroke="#111" stroke-width="1.6"/>
<path d="M752.5,1131.39H755.9M752.5,1114.19H755.9M752.5,1101.98H755.9M752.5,1092.51H755.9M752.5,1084.78H755.9M752.5,1078.24H755.9M752.5,1072.57H755.9M752.5,1067.57H755.9M752.5,1033.69H755.9M752.5,1016.49H755.9M752.5,1004.28H755.9M752.5,994.81H755.9M752.5,987.08H755.9M752.5,980.54H755.9M752.5,974.87H755.9M752.5,969.87H755.9M752.5,935.99H755.9M752.5,918.79H755.9M752.5,906.58H755.9M752.5,897.11H755.9M752.5,889.38H755.9M752.5,882.84H755.9M752.5,877.17H755.9M752.5,872.17H755.9" stroke="#111" stroke-width="1"/>
<path d="M755.9,1160.8V1167M903.3,1160.8V1167M1050.7,1160.8V1167M1198.1,1160.8V1167" stroke="#111" stroke-width="1.6"/>
<path d="M800.27,1160.8V1164.5M826.23,1160.8V1164.5M844.64,1160.8V1164.5M858.93,1160.8V1164.5M870.6,1160.8V1164.5M880.47,1160.8V1164.5M889.02,1160.8V1164.5M896.56,1160.8V1164.5M947.67,1160.8V1164.5M973.63,1160.8V1164.5M992.04,1160.8V1164.5M1006.33,1160.8V1164.5M1018,1160.8V1164.5M1027.87,1160.8V1164.5M1036.42,1160.8V1164.5M1043.96,1160.8V1164.5M1095.07,1160.8V1164.5M1121.03,1160.8V1164.5M1139.44,1160.8V1164.5M1153.73,1160.8V1164.5M1165.4,1160.8V1164.5M1175.27,1160.8V1164.5M1183.82,1160.8V1164.5M1191.36,1160.8V1164.5M1242.47,1160.8V1164.5" stroke="#111" stroke-width="1"/>
<g font-size="16" text-anchor="end"><text x="741" y="874">10</text><text x="741" y="971.5">10</text><text x="741" y="1069">10</text><text x="741" y="1167">10</text></g>
<g font-size="11"><text x="742" y="866">4</text><text x="742" y="963.5">3</text><text x="742" y="1061">2</text><text x="742" y="1159">1</text></g>
<g font-size="16"><text x="742" y="1190">10</text><text x="889.5" y="1190">10</text><text x="1037" y="1190">10</text><text x="1187" y="1190">10</text></g>
<g font-size="11"><text x="760" y="1182">-3</text><text x="907.5" y="1182">-2</text><text x="1055" y="1182">-1</text><text x="1205" y="1182">0</text></g>
<text x="1012.8" y="1207" font-size="17" text-anchor="middle" textLength="269" lengthAdjust="spacingAndGlyphs">Normalized detuning wavelength Δ</text>
<text transform="translate(714.5,1015.2) rotate(-90)" font-size="17" text-anchor="middle" textLength="151" lengthAdjust="spacingAndGlyphs">Dissipation Q factor</text>
<text transform="translate(1035,968) rotate(21)" font-size="17" font-weight="bold" text-anchor="middle" fill="#111">Q<tspan font-size="11" font-style="italic" dy="4">dis</tspan><tspan dy="-4"> ∝ 1/√</tspan><tspan font-style="italic" text-decoration="overline">Δ</tspan></text>
<text x="770" y="1150.5" font-size="19" font-weight="bold" style="fill:#7a34a8" textLength="84" lengthAdjust="spacingAndGlyphs">nonlocal</text>
<text x="1173" y="1150.5" font-size="19" font-weight="bold" style="fill:#b0221a" textLength="47" lengthAdjust="spacingAndGlyphs">local</text>
<polygon points="865,1142.6 880,1136 880,1140 1148,1140 1148,1136 1163,1142.6 1148,1149.5 1148,1145.5 880,1145.5 880,1149.5" fill="url(#arr2)"/>
<g>
<use xlink:href="#mx" x="755.9" y="920.5" color="#38a84a"/>
<use xlink:href="#md" x="766" y="926.8" color="#c0282a"/>
<use xlink:href="#mt" x="770.4" y="915.4" color="#38a84a"/>
<use xlink:href="#mcf" x="772.7" y="920.5" color="#f2b630"/>
<use xlink:href="#md" x="773.5" y="925.5" color="#7b3fa8"/>
<use xlink:href="#mc" x="785.9" y="923" color="#3a7ac8"/>
<use xlink:href="#ms" x="807.9" y="931.9" color="#e8291c"/>
<use xlink:href="#mx" x="812.3" y="935.6" color="#e8291c"/>
<use xlink:href="#mp" x="817.6" y="934.4" color="#3a7ac8"/>
<use xlink:href="#mcf" x="832.2" y="944.5" color="#f2b630"/>
<use xlink:href="#mt" x="837.9" y="938.9" color="#38a84a"/>
<use xlink:href="#md" x="854.2" y="956.3" color="#7b3fa8"/>
<use xlink:href="#mx" x="863" y="949.5" color="#38a84a"/>
<use xlink:href="#md" x="876.2" y="968.5" color="#c0282a"/>
<use xlink:href="#mc" x="881.5" y="955.8" color="#3a7ac8"/>
<use xlink:href="#msf" x="898.3" y="958.4" color="#38a84a"/>
<use xlink:href="#ms" x="910.2" y="982.3" color="#f2b630"/>
<use xlink:href="#ms" x="913.7" y="967.7" color="#e8291c"/>
<use xlink:href="#mp" x="926.9" y="974.8" color="#3a7ac8"/>
<use xlink:href="#mt" x="939.3" y="976" color="#38a84a"/>
<use xlink:href="#mcf" x="943.7" y="996.2" color="#f2b630"/>
<use xlink:href="#mx" x="951.2" y="995" color="#e8291c"/>
<use xlink:href="#mc" x="966.6" y="990.4" color="#3a7ac8"/>
<use xlink:href="#mtf" x="977.6" y="995" color="#7b3fa8"/>
<use xlink:href="#mt" x="1001" y="1001.3" color="#38a84a"/>
<use xlink:href="#msf" x="1010.7" y="1004.5" color="#38a84a"/>
<use xlink:href="#md" x="1009.8" y="1018.9" color="#c0282a"/>
<use xlink:href="#mc" x="1014.2" y="1011.4" color="#3a7ac8"/>
<use xlink:href="#md" x="1024.8" y="1026.5" color="#7b3fa8"/>
<use xlink:href="#ms" x="1028.3" y="1013.9" color="#e8291c"/>
<use xlink:href="#mt" x="1048.2" y="1021.5" color="#38a84a"/>
<use xlink:href="#mp" x="1052.6" y="1027.8" color="#3a7ac8"/>
<use xlink:href="#md" x="1058.3" y="1029" color="#c0282a"/>
<use xlink:href="#md" x="1075.9" y="1015.1" color="#c0282a"/>
<use xlink:href="#msf" x="1079" y="1034.1" color="#38a84a"/>
<use xlink:href="#mx" x="1075.9" y="1032.8" color="#38a84a"/>
<use xlink:href="#mc" x="1112.9" y="1048" color="#3a7ac8"/>
<use xlink:href="#mt" x="1127.5" y="1050.5" color="#38a84a"/>
<use xlink:href="#mtf" x="1128.8" y="1051.7" color="#7b3fa8"/>
<use xlink:href="#ms" x="1142.9" y="1051.7" color="#e8291c"/>
<use xlink:href="#mc" x="1155.3" y="1059.3" color="#3a7ac8"/>
<use xlink:href="#mcf" x="1147.3" y="1077" color="#f2b630"/>
<use xlink:href="#mx" x="1147.3" y="1073.2" color="#e8291c"/>
<use xlink:href="#mt" x="1169.4" y="1062.6" color="#38a84a"/>
<use xlink:href="#md" x="1176" y="1066.9" color="#7b3fa8"/>
<use xlink:href="#mx" x="1180.4" y="1070.7" color="#38a84a"/>
<use xlink:href="#msf" x="1173.8" y="1063.1" color="#38a84a"/>
<use xlink:href="#ms" x="1186.1" y="1062.6" color="#e8291c"/>
<use xlink:href="#mtf" x="1189.2" y="1065.1" color="#7b3fa8"/>
<use xlink:href="#mc" x="1208.2" y="1071.9" color="#3a7ac8"/>
<use xlink:href="#mx" x="1220.1" y="1084.6" color="#38a84a"/>
<use xlink:href="#ms" x="1220.1" y="1098.4" color="#f2b630"/>
<use xlink:href="#mcf" x="1223.2" y="1092.1" color="#f2b630"/>
<use xlink:href="#mc" x="1224.5" y="1077" color="#3a7ac8"/>
<use xlink:href="#mt" x="1228.9" y="1079.5" color="#38a84a"/>
<use xlink:href="#md" x="1239" y="1084.6" color="#7b3fa8"/>
<use xlink:href="#mx" x="1240.8" y="1089.6" color="#38a84a"/>
<use xlink:href="#msf" x="1250.9" y="1092.1" color="#38a84a"/>
<use xlink:href="#mc" x="1252.2" y="1111.1" color="#f2b630"/>
<use xlink:href="#mx" x="1252.2" y="1104.8" color="#e8291c"/>
</g>

<!-- ===================== ICONS ===================== -->
<text x="704" y="1226" font-size="17">dark</text>
<text x="704" y="1331" font-size="17">bright</text>
<!-- row 1 -->
<g transform="translate(746,1254)"><use xlink:href="#base"/><use xlink:href="#pil" x="-7" y="-2"/><use xlink:href="#pil" x="5" y="1"/><path d="M-4,-1 L2,2" stroke="#4a4520" stroke-width="2"/></g>
<g transform="translate(843,1254)"><use xlink:href="#base"/><ellipse cx="0" cy="-6" rx="24" ry="14" fill="none" stroke="#6a6430" stroke-width="1.6"/><ellipse cx="0" cy="-5" rx="17" ry="10" fill="none" stroke="#6a6430" stroke-width="1.4"/><rect x="-5" y="-16" width="10" height="12" fill="#c4ba5c" stroke="#4a4520" stroke-width=".6"/><ellipse cx="0" cy="-16" rx="5" ry="2.5" fill="#e8de84" stroke="#4a4520" stroke-width=".6"/></g>
<g transform="translate(942,1254)"><use xlink:href="#base"/><rect x="-5" y="-18" width="10" height="14" fill="#c4ba5c" stroke="#4a4520" stroke-width=".6"/><ellipse cx="0" cy="-4" rx="5" ry="2.5" fill="#c4ba5c" stroke="#4a4520" stroke-width=".6"/><ellipse cx="0" cy="-18" rx="5" ry="2.5" fill="#e8de84" stroke="#4a4520" stroke-width=".6"/></g>
<g transform="translate(1044,1254)"><use xlink:href="#base"/><ellipse cx="0" cy="-3" rx="15" ry="8" fill="#b8ae52" stroke="#4a4520" stroke-width=".7"/><rect x="-15" y="-10" width="30" height="7" fill="#b8ae52"/><ellipse cx="0" cy="-10" rx="15" ry="8" fill="#dcd275" stroke="#4a4520" stroke-width=".7"/><ellipse cx="0" cy="-10" rx="10" ry="5" fill="#8f873a"/></g>
<g transform="translate(1143,1254)"><use xlink:href="#base"/><path d="M-40,0 L0,26 L0,12 L-40,-14Z" fill="#a8a04a" stroke="#4a4520" stroke-width=".7"/><path d="M22,-11 L40,0 L40,-14 L22,-25Z" fill="#8f873a" stroke="#4a4520" stroke-width=".7"/><g transform="translate(0,-2) scale(1,1.5)"><use xlink:href="#pil"/></g></g>
<g transform="translate(1240,1254)"><use xlink:href="#base"/><path d="M-12,-30 L10,-2 M10,-30 L-12,-2" stroke="#8f873a" stroke-width="4"/><use xlink:href="#pil" x="-12" y="-2"/><use xlink:href="#pil" x="10" y="-2"/><use xlink:href="#pil" x="-2" y="4"/></g>
<!-- row 2 -->
<g transform="translate(746,1362)"><use xlink:href="#base"/><use xlink:href="#pil" x="-7" y="-2"/><use xlink:href="#pil" x="5" y="1"/><path d="M-4,-1 L2,2" stroke="#4a4520" stroke-width="2"/></g>
<g transform="translate(843,1362)"><use xlink:href="#base"/><path d="M-24,-2 L0,-18 L24,-2 L0,14Z" fill="#b8ae52" stroke="#4a4520" stroke-width=".7"/><path d="M-24,-6 L0,-22 L24,-6 L0,10Z" fill="#dcd275" stroke="#4a4520" stroke-width=".7"/><path d="M-14,-6 L0,-15 L14,-6 L0,3Z" fill="#dcd275" stroke="#4a4520" stroke-width=".7"/></g>
<g transform="translate(942,1362)"><use xlink:href="#base"/><rect x="-16" y="-18" width="16" height="10" fill="#c4ba5c" stroke="#4a4520" stroke-width=".6"/><ellipse cx="-8" cy="-8" rx="8" ry="4" fill="#c4ba5c" stroke="#4a4520" stroke-width=".6"/><ellipse cx="-8" cy="-18" rx="8" ry="4" fill="#e8de84" stroke="#4a4520" stroke-width=".6"/><rect x="0" y="-8" width="16" height="10" fill="#c4ba5c" stroke="#4a4520" stroke-width=".6"/><ellipse cx="8" cy="2" rx="8" ry="4" fill="#c4ba5c" stroke="#4a4520" stroke-width=".6"/><ellipse cx="8" cy="-8" rx="8" ry="4" fill="#e8de84" stroke="#4a4520" stroke-width=".6"/></g>
<g transform="translate(1044,1362)"><use xlink:href="#base"/><path d="M-2,2 L-8,-40 L-4,-42 L3,0Z" fill="#c4ba5c" stroke="#4a4520" stroke-width=".6"/></g>
<g transform="translate(1143,1362)"><use xlink:href="#base"/><path d="M0,-25 L40,0 L40,-35 L0,-60Z" fill="#8a8236" stroke="#4a4520" stroke-width=".7"/><path d="M40,-35 L0,-60 L-3,-58 L37,-33Z" fill="#e8de84"/><use xlink:href="#pil" x="-10" y="2"/><use xlink:href="#pil" x="0" y="6"/></g>
<g transform="translate(1240,1362)"><use xlink:href="#base"/><path d="M-20,-2 L-14,-38" stroke="#4a4520" stroke-width="8" stroke-linecap="round"/><path d="M-20,-2 L-14,-38" stroke="#c4ba5c" stroke-width="6" stroke-linecap="round"/><path d="M20,-2 L10,-38" stroke="#4a4520" stroke-width="8" stroke-linecap="round"/><path d="M20,-2 L10,-38" stroke="#c4ba5c" stroke-width="6" stroke-linecap="round"/></g>
<g>
<use xlink:href="#ms" x="720" y="1275" color="#e8291c"/>
<use xlink:href="#md" x="814.5" y="1271.5" color="#7b3fa8"/>
<use xlink:href="#mc" x="911.5" y="1274" color="#3a7ac8"/>
<use xlink:href="#md" x="1012" y="1275" color="#c0282a"/>
<use xlink:href="#mt" x="1114" y="1274" color="#38a84a"/>
<use xlink:href="#ms" x="1208" y="1276" color="#f2b630"/>
<use xlink:href="#mx" x="720" y="1381.5" color="#e8291c"/>
<use xlink:href="#mx" x="816" y="1381.5" color="#38a84a"/>
<use xlink:href="#mp" x="914.5" y="1381.5" color="#3a7ac8"/>
<use xlink:href="#mtf" x="1012" y="1381.5" color="#7b3fa8"/>
<use xlink:href="#mcf" x="1111" y="1381.5" color="#f2b630"/>
<use xlink:href="#msf" x="1212.5" y="1381.5" color="#38a84a"/>
</g>
<g font-size="16" text-anchor="middle"><text x="744" y="1298">(i)</text><text x="841" y="1298">(ii)</text><text x="941" y="1298">(iii)</text><text x="1044" y="1298">(iv)</text><text x="1144" y="1298">(v)</text><text x="1240" y="1298">(vi)</text>
<text x="841" y="1405.5">(vii)</text><text x="940" y="1405.5">(viii)</text><text x="1044" y="1405.5">(ix)</text><text x="1143" y="1405.5">(x)</text><text x="1240" y="1405.5">(xi)</text></g>
<g stroke="#111" stroke-width="1.2" fill="none"><path d="M1283.8,1230 V1242 M1283.8,1275 V1262 M1252,1244.7 H1290 M1252,1259.3 H1290"/><path d="M1283.8,1334 V1366 M1257,1331.4 H1290 M1250,1369 H1290"/></g>
<g fill="#111"><path d="M1283.8,1244.7 l-3,-6 h6z"/><path d="M1283.8,1259.3 l-3,6 h6z"/><path d="M1283.8,1331.4 l-3,6 h6z"/><path d="M1283.8,1369 l-3,-6 h6z"/></g>
<text x="1290" y="1259.5" font-size="17" textLength="73" lengthAdjust="spacingAndGlyphs">α×1.8 μm</text>
<text x="1290" y="1356" font-size="17" textLength="73" lengthAdjust="spacingAndGlyphs">α×1.8 μm</text>

<!-- ===================== BOTTOM (c) ===================== -->
<text x="39" y="1219" font-size="20">(c)</text>
<text x="235" y="1198" font-size="17" text-anchor="middle">θ (deg)</text>
<text x="564.6" y="1198" font-size="17" text-anchor="middle">θ (deg)</text>
<g font-size="17" text-anchor="middle"><text x="125.8" y="1223">0</text><text x="161.2" y="1223">10</text><text x="196.6" y="1223">20</text><text x="232" y="1223">30</text><text x="267.3" y="1223">40</text><text x="302.7" y="1223">50</text><text x="338" y="1223">60</text>
<text x="454.8" y="1223">0</text><text x="490" y="1223">10</text><text x="525.1" y="1223">20</text><text x="560.3" y="1223">30</text><text x="595.4" y="1223">40</text><text x="630.6" y="1223">50</text><text x="665.7" y="1223">60</text></g>
<path d="M125.8,1238.7V1233M161.2,1238.7V1233M196.6,1238.7V1233M232,1238.7V1233M267.3,1238.7V1233M302.7,1238.7V1233M338,1238.7V1233M454.8,1238.7V1233M490,1238.7V1233M525.1,1238.7V1233M560.3,1238.7V1233M595.4,1238.7V1233M630.6,1238.7V1233M665.7,1238.7V1233" stroke="#111" stroke-width="1.3"/>
<path d="M121,1239.4H126.5M121,1285H126.5M121,1330.7H126.5M121,1376.7H126.5M449,1239.4H454.8M449,1285H454.8M449,1330.7H454.8M449,1376.7H454.8" stroke="#111" stroke-width="1.3"/>
<g font-size="17" text-anchor="end"><text x="116" y="1245.5">3</text><text x="116" y="1291">4</text><text x="116" y="1337">5</text><text x="116" y="1383">6</text><text x="444" y="1245.5">4</text><text x="444" y="1291">5</text><text x="444" y="1337">6</text><text x="444" y="1383">7</text></g>
<text transform="translate(91,1307.5) rotate(-90)" font-size="17" text-anchor="middle">Wavelength (μm)</text>
<text transform="translate(419,1307.5) rotate(-90)" font-size="17" text-anchor="middle">Wavelength (μm)</text>
<g clip-path="url(#clipL)">
<rect x="126.5" y="1238.7" width="218.5" height="138" fill="url(#hm1)"/>
<ellipse cx="330" cy="1240" rx="50" ry="8" fill="url(#hot)"/>
<polyline points="131.8,1266.2 153.8,1271.2 175.8,1277.4 197.7,1287.4 219.7,1300 241.7,1312.5 263.6,1323.7 285.6,1333.7 307.6,1343.7 329.6,1355 345,1361.2" fill="none" stroke="#e8b030" stroke-width="3.2"/>
<polyline points="131.8,1266.2 153.8,1271.2 175.8,1277.4 197.7,1287.4 219.7,1300 241.7,1312.5 263.6,1323.7 285.6,1333.7 307.6,1343.7 329.6,1355 345,1361.2" fill="none" stroke="#70e0a0" stroke-width="3.2" stroke-dasharray="3 5"/>
</g>
<rect x="126.5" y="1238.7" width="218.5" height="138" fill="none" stroke="#333" stroke-width="1.2"/>
<g font-size="17" style="fill:#fff">
<text x="134" y="1255" style="fill:#fff" textLength="66" lengthAdjust="spacingAndGlyphs">nonlocal</text>
<text x="134" y="1311" style="fill:#fff">BIC</text>
<text transform="translate(235,1327.5) rotate(31)" text-anchor="middle" style="fill:#fff">nonlocal</text>
<text x="270" y="1259" style="fill:#fff">z</text><text x="325" y="1308" style="fill:#fff">x</text><text x="284" y="1272" style="fill:#fff" font-size="15">θ</text><text x="316" y="1262" style="fill:#fff">E</text><text x="296" y="1300" style="fill:#fff" font-style="italic" font-size="15">k</text>
</g>
<g stroke="#fff" stroke-width="1.6" fill="none"><line x1="138.4" y1="1288.7" x2="130.5" y2="1268"/><line x1="275.5" y1="1302.5" x2="275.5" y2="1265"/><line x1="275.5" y1="1302.5" x2="318" y2="1302.5"/><line x1="275.5" y1="1302.5" x2="316.4" y2="1271.2"/><line x1="316.4" y1="1271.2" x2="305" y2="1255"/><path d="M275.5,1285 Q283,1283 287,1288"/></g>
<g fill="#fff"><path d="M129.6,1265 l-1,7 l5,-2z"/><path d="M275.5,1262 l-3,6 h6z"/><path d="M321,1302.5 l-6,-3 v6z"/><path d="M303.5,1252.5 l0.5,7 l4.5,-3z"/></g>
<text x="141" y="1394" font-size="17"><tspan font-style="italic">α</tspan> = 0.3</text>
<text x="268" y="1394" font-size="17" textLength="79" lengthAdjust="spacingAndGlyphs">Reflection</text>
<!-- right heatmap -->
<g clip-path="url(#clipR)">
<rect x="454.8" y="1238.7" width="219.7" height="138" fill="url(#hm1)"/>
<ellipse cx="665" cy="1245" rx="60" ry="25" fill="url(#hot)"/>
<path d="M527.3,1239.9 Q590,1268 641.5,1300" fill="none" stroke="#d86020" stroke-width="2" stroke-dasharray="2 2"/>
<path d="M459.2,1331.2 C475,1328 500,1322 527.3,1316.2 S590,1302 615.2,1300 S650,1302 674.5,1312.5" fill="none" stroke="#e87020" stroke-width="14" opacity="0.55"/>
<path d="M459.2,1331.2 C475,1328 500,1322 527.3,1316.2 S590,1302 615.2,1300 S650,1302 674.5,1312.5" fill="none" stroke="#f0c030" stroke-width="8"/>
<path d="M462,1330.5 C475,1328 500,1322 527.3,1316.2 S590,1302 615.2,1300 S640,1301 650,1303" fill="none" stroke="#90e060" stroke-width="5.5"/>
<path d="M465,1330 C478,1327.5 500,1322 527.3,1316.2 S575,1305 595,1302" fill="none" stroke="#40c8e0" stroke-width="4"/>
<path d="M470,1328.5 C490,1325 510,1320 545,1312" fill="none" stroke="#2030b0" stroke-width="2.4"/>
</g>
<rect x="454.8" y="1238.7" width="219.7" height="138" fill="none" stroke="#333" stroke-width="1.2"/>
<text transform="translate(619.6,1277.4) rotate(35)" font-size="17" text-anchor="middle" style="fill:#fff">nonlocal</text>
<text x="459" y="1301" font-size="17" style="fill:#fff">BIC</text>
<text x="459" y="1350" font-size="17" style="fill:#fff">local</text>
<line x1="468" y1="1303.7" x2="458.5" y2="1323" stroke="#fff" stroke-width="1.6"/><path d="M457,1328 l-1.5,-7 l5.5,2z" fill="#fff"/>
<text x="470" y="1394" font-size="17"><tspan font-style="italic">α</tspan> = 1.5</text>
<text x="567" y="1394" font-size="17" text-anchor="middle">0</text>
<rect x="579" y="1382.5" width="69" height="10" fill="url(#jet)" stroke="#111" stroke-width="1"/>
<text x="658" y="1394" font-size="17" text-anchor="middle">1</text>

<!-- ===================== BOTTOM (d) ===================== -->
<text x="39" y="1418" font-size="20">(d)</text>
<!-- left bars -->
<g fill="#d9d9d9" stroke="#333" stroke-width="1.2">
<rect x="148.5" y="1430.6" width="19.8" height="83.9"/><rect x="173.6" y="1433.5" width="21.1" height="81"/><rect x="199" y="1441.4" width="21.6" height="73.1"/><rect x="225.4" y="1443.1" width="21.6" height="71.4"/><rect x="251.3" y="1431.8" width="21.1" height="82.7"/><rect x="277.7" y="1430.6" width="21.1" height="83.9"/><rect x="303.2" y="1434.6" width="22" height="79.9"/>
</g>
<path d="M136.2,1416.2 V1514.5 H334.8 V1416.2 H204 M146,1416.2 H136.2" stroke="#111" stroke-width="1.8" fill="none"/>
<path d="M131,1429.5H136.2M131,1457.5H136.2M131,1486.3H136.2M131,1514.5H136.2" stroke="#111" stroke-width="1.4"/>
<text x="149" y="1422" font-size="17"><tspan font-style="italic">α</tspan> = 0.3</text>
<g font-size="17" text-anchor="end"><text x="121" y="1435.5">150</text><text x="121" y="1463.5">100</text><text x="121" y="1492.3">50</text><text x="121" y="1520.5">0</text></g>
<g font-size="17" text-anchor="middle"><text x="157" y="1533.5">2</text><text x="182" y="1533.5">10</text><text x="208.5" y="1533.5">20</text><text x="236" y="1533.5">30</text><text x="261.5" y="1533.5">40</text><text x="287.5" y="1533.5">50</text><text x="315" y="1533.5">60</text></g>
<text x="235" y="1553" font-size="17" text-anchor="middle">θ (deg)</text>
<text transform="translate(85,1467.5) rotate(-90)" font-size="17" text-anchor="middle">Q factor</text>
<!-- right bars -->
<g fill="#d9d9d9" stroke="#333" stroke-width="1.2">
<rect x="487.7" y="1459.5" width="22" height="55"/><rect x="514" y="1480" width="22" height="34.5"/><rect x="539.6" y="1496.9" width="21.9" height="17.6"/><rect x="566.8" y="1503.2" width="21.1" height="11.3"/><rect x="592.3" y="1504.9" width="20.7" height="9.6"/><rect x="617.4" y="1495.2" width="21.9" height="19.3"/><rect x="643.7" y="1430.6" width="22" height="83.9"/>
</g>
<path d="M476.7,1416.2 V1514.5 H676.7 V1416.2 H545 M488,1416.2 H476.7" stroke="#111" stroke-width="1.8" fill="none"/>
<path d="M471.5,1429.5H476.7M471.5,1457.5H476.7M471.5,1486.3H476.7M471.5,1514.5H476.7" stroke="#111" stroke-width="1.4"/>
<text x="490" y="1422" font-size="17"><tspan font-style="italic">α</tspan> = 1.5</text>
<g font-size="17" text-anchor="end"><text x="464" y="1435.5">150</text><text x="464" y="1463.5">100</text><text x="464" y="1492.3">50</text><text x="464" y="1520.5">0</text></g>
<g font-size="17" text-anchor="middle"><text x="499" y="1533.5">2</text><text x="525" y="1533.5">10</text><text x="550.5" y="1533.5">20</text><text x="577.5" y="1533.5">30</text><text x="602.5" y="1533.5">40</text><text x="628.5" y="1533.5">50</text><text x="655" y="1533.5">60</text></g>
<text x="577" y="1553" font-size="17" text-anchor="middle">θ (deg)</text>
<text transform="translate(425.5,1467.5) rotate(-90)" font-size="17" text-anchor="middle">Q factor</text>
</svg>
</body></html>
